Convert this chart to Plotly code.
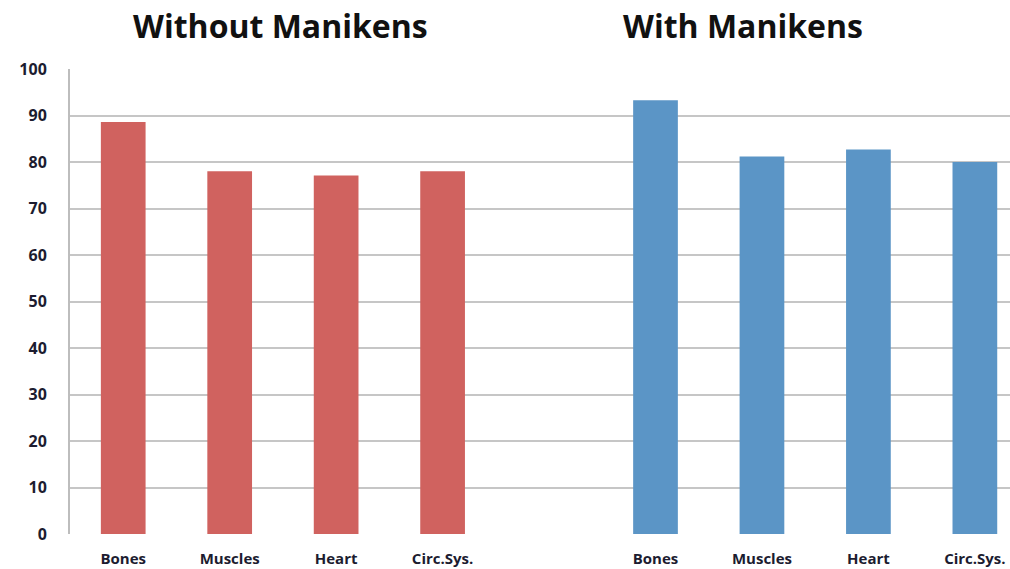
import plotly.graph_objects as go

categories = ["Bones", "Muscles", "Heart", "Circ.Sys."]
without_values = [88.6, 78.0, 77.1, 78.0]
with_values = [93.3, 81.2, 82.7, 80.0]
group_titles = ["Without Manikens", "With Manikens"]
y_ticks = [0, 10, 20, 30, 40, 50, 60, 70, 80, 90, 100]

n = len(categories)
x_without = list(range(n))
x_with = [i + n + 1 for i in range(n)]

fig = go.Figure()
fig.add_trace(go.Bar(x=x_without, y=without_values, marker=dict(color="#D0625F", line=dict(width=0)),
                     width=0.42, showlegend=False))
fig.add_trace(go.Bar(x=x_with, y=with_values, marker=dict(color="#5B95C6", line=dict(width=0)),
                     width=0.42, showlegend=False))

fig.update_layout(
    width=1010, height=569,
    margin=dict(l=70, r=0, t=69, b=35),
    paper_bgcolor="white", plot_bgcolor="white",
    font=dict(family="DejaVu Sans"),
    xaxis=dict(
        range=[-0.5, 8.33],
        tickvals=x_without + x_with,
        ticktext=["<b>%s</b>" % c for c in categories + categories],
        tickfont=dict(family="Open Sans", size=15, color="#1c1c30"),
        showgrid=False, zeroline=False, showline=False,
        ticks="", ticklabelstandoff=14,
    ),
    yaxis=dict(
        range=[0, 100], tickvals=y_ticks,
        ticktext=["<b>%d</b>" % v for v in y_ticks],
        tickfont=dict(family="Open Sans", size=16, color="#1c1c30"),
        showgrid=True, gridcolor="#C6C6C6", gridwidth=2,
        zeroline=False, showline=True, linecolor="#BDBDBD", linewidth=2,
        ticks="", ticklabelstandoff=18,
    ),
)
title_px = [280, 743]
for t, xc in zip(group_titles, title_px):
    fig.add_annotation(x=(xc - 70) / 940, xref="paper", xanchor="center",
                       y=1, yref="paper", yanchor="middle", yshift=69 - 25,
                       text="<b>%s</b>" % t, showarrow=False,
                       font=dict(family="Open Sans", size=32, color="#111111"))
fig.write_html("out.html")
